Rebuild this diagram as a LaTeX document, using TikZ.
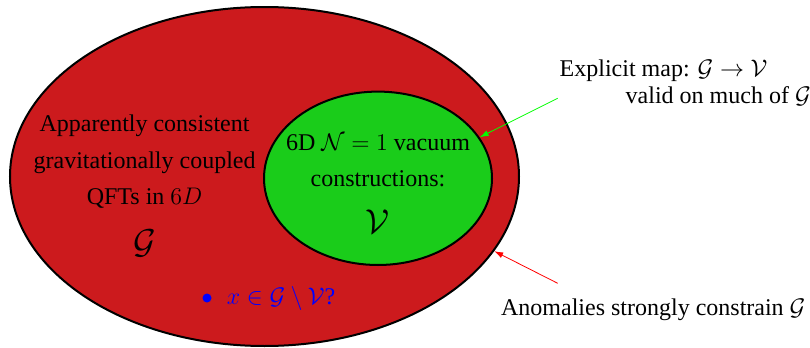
\documentclass[tikz,border=0pt,12pt]{standalone}
\usepackage{amsmath}
\usepackage{amssymb}
\usepackage{fontspec}
\setmainfont{Liberation Serif}
\usepackage{tikz}
\usetikzlibrary{shapes.geometric,arrows.meta}

\definecolor{gsetred}{RGB}{204,26,29}
\definecolor{vsetgreen}{RGB}{26,204,26}

\begin{document}
\begin{tikzpicture}[x=0.5pt,y=-0.5pt,
    setbox/.style={ellipse,draw=black,line width=1pt,inner sep=0pt},
    lbl/.style={align=center,font=\fontsize{12}{18.3}\selectfont},
    note/.style={align=left,font=\fontsize{12}{13.3}\selectfont},
    ptr/.style={-{Latex[length=4.5pt,width=3pt]}}]

        \useasboundingbox (0,0) rectangle (810,348);

        % The two sets
        \node[setbox, fill=gsetred, minimum width=254.5pt, minimum height=169.5pt] (G) at (264.5,176.5) {};
        \node[setbox, fill=vsetgreen, minimum width=114pt, minimum height=86.7pt] (V) at (378,178.3) {};

        % Labels inside
        \node[lbl] (Gtext) at (144.6,162) {Apparently consistent\\gravitationally coupled\\QFTs in $6D$};
        \node[font=\Large] (Gsym) at (144.6,243.3) {$\mathcal{G}$};
        \node[lbl] (Vtext) at (378,160.4) {6D $\mathcal{N}=1$ vacuum\\constructions:};
        \node[font=\Large] (Vsym) at (378,221.7) {$\mathcal{V}$};

        % Point outside V
        \node[circle, fill=blue, inner sep=0pt, minimum size=4.5pt] (x) at (207,298) {};
        \node[anchor=west, inner sep=0pt, text=blue] (xtext) at (226.5,298) {$x\in\mathcal{G}\setminus\mathcal{V}$?};

        % Notes
        \node[note, anchor=west, inner sep=0pt] (map) at (559.3,83) {Explicit map: $\mathcal{G}\to\mathcal{V}$\\\hspace*{33pt}valid on much of $\mathcal{G}$};
        \node[anchor=west, inner sep=0pt] (anom) at (500.7,310) {Anomalies strongly constrain $\mathcal{G}$};

        % Pointers
        \coordinate (mapfoot) at (557.7,98.3);
        \coordinate (anomfoot) at (557.7,283.3);
        \draw[ptr, green] (mapfoot) -- (V.22.7);
        \draw[ptr, red] (anomfoot) -- (G.-18.5);

    \end{tikzpicture}
\end{document}
